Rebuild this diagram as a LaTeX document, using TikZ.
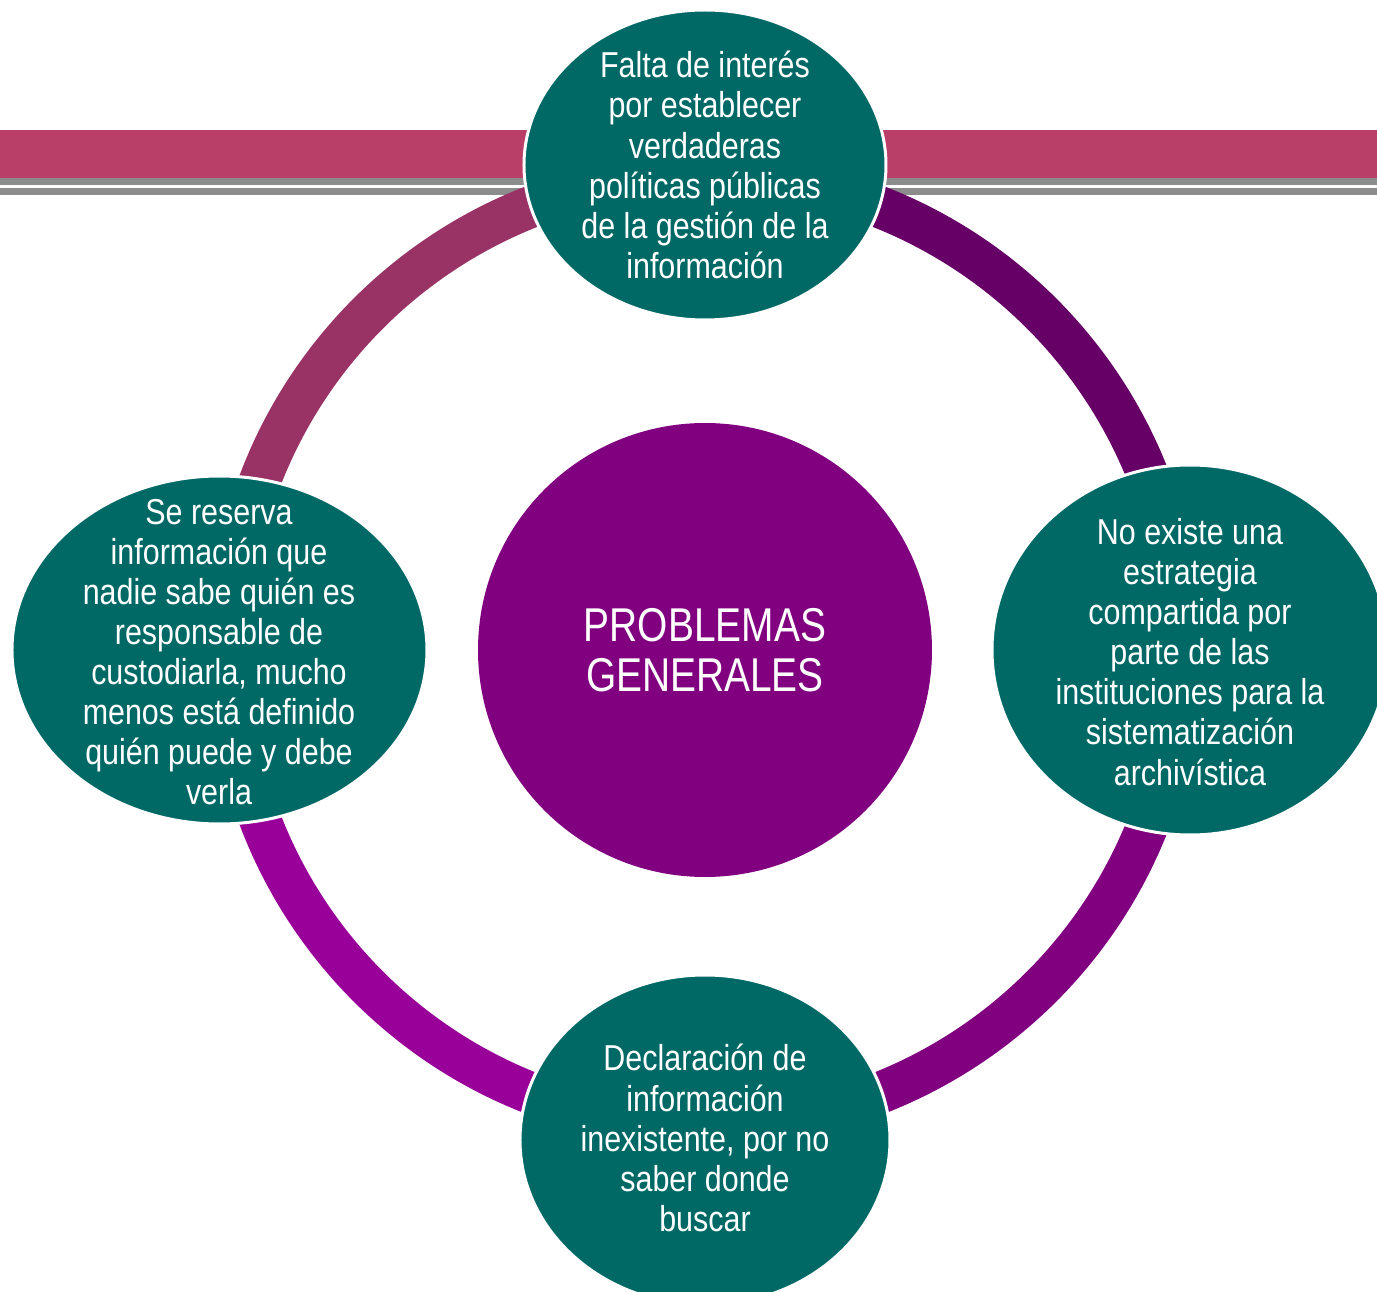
\documentclass[tikz,border=0pt]{standalone}
\usepackage{fontspec}
\setmainfont{Liberation Sans}[FakeStretch=0.845]
\newfontfamily\titulofont{Liberation Sans}[FakeStretch=0.82]
\definecolor{verde}{HTML}{006966}
\definecolor{rosa}{HTML}{B93E68}
\definecolor{gris}{HTML}{8C8C8C}
\definecolor{arcoNO}{HTML}{993366}
\definecolor{arcoNE}{HTML}{660066}
\definecolor{arcoSE}{HTML}{800080}
\definecolor{arcoSO}{HTML}{990099}
\definecolor{centro}{HTML}{800080}

\begin{document}
\begin{tikzpicture}[
        x=0.02cm, y=0.02cm, % una unidad = un pixel
        anillo/.style = {line width=0.84cm}, % grosor del aro
        burbuja/.style = {fill=verde, draw=white, line width=0.06cm}, % elipses verdes
        texto/.style = {text=white, align=center, inner sep=0pt,
                font=\fontsize{20.5pt}{22.8pt}\selectfont},
        titulo/.style = {text=white, align=center, inner sep=0pt,
                font=\titulofont\fontsize{27pt}{28.6pt}\selectfont},
    ]
    \useasboundingbox (-705,-642) rectangle (672,650);

    % franja superior
    \fill[rosa] (-705,472) rectangle (672,520);
    \fill[gris] (-705,465) rectangle (672,472);
    \fill[gris] (-705,455) rectangle (672,462);

    % aro
    \draw[anillo, arcoNO] (90:476) arc (90:180:476);
    \draw[anillo, arcoNE] (0:476) arc (0:90:476);
    \draw[anillo, arcoSE] (270:476) arc (270:360:476);
    \draw[anillo, arcoSO] (180:476) arc (180:270:476);

    % elipses
    \filldraw[burbuja] (0,485) ellipse [x radius=181, y radius=155];
    \filldraw[burbuja] (485,0) ellipse [x radius=198, y radius=185];
    \filldraw[burbuja] (0,-490) ellipse [x radius=185, y radius=165];
    \filldraw[burbuja] (-485.5,0) ellipse [x radius=207.5, y radius=174];
    \fill[centro] (0,0) circle [radius=227];

    \node[titulo] (problemas) at (0,0) {PROBLEMAS\\GENERALES};
    \node[texto] (falta) at (0,485) {Falta de interés\\por establecer\\verdaderas\\políticas públicas\\de la gestión de la\\información};
    \node[texto] (estrategia) at (485,-2) {No existe una\\estrategia\\compartida por\\parte de las\\instituciones para la\\sistematización\\archivística};
    \node[texto] (declaracion) at (0,-488) {Declaración de\\información\\inexistente, por no\\saber donde\\buscar};
    \node[texto] (reserva) at (-486,-2) {Se reserva\\información que\\nadie sabe quién es\\responsable de\\custodiarla, mucho\\menos está definido\\quién puede y debe\\verla};
\end{tikzpicture}
\end{document}
